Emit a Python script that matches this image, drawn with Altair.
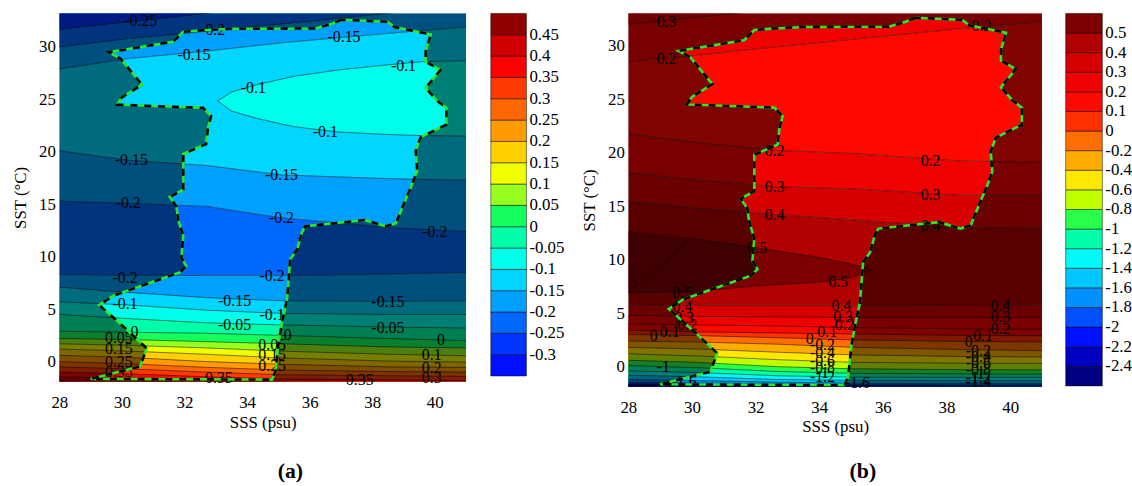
import altair as alt
import pandas as pd

FONT = "Liberation Serif, Times New Roman, Times, serif"

SSS_TICKS = [28, 30, 32, 34, 36, 38, 40]
SST_TICKS = [0, 5, 10, 15, 20, 25, 30]
SSS_DOMAIN = [28, 41]
SST_DOMAIN_A = [-1.9, 33.2]
SST_DOMAIN_B = [-1.85, 33.0]
TOP, BOTTOM = 36.0, -3.0

# ---------------- data-coverage polygon (same in both panels) ----------------
POLY_SSS = [37.02, 36.70, 36.18, 33.54, 32.59, 31.96, 31.64, 29.58, 29.95, 30.64, 30.0, 29.84,
            32.59, 32.85, 32.75, 32.69, 31.96, 31.96, 31.53, 31.74, 31.8, 31.96, 31.9, 32.06,
            31.85, 30.79, 29.74, 29.27, 30.1, 30.79, 30.58, 29.0,
            34.8, 34.91, 35.01, 35.12, 35.28, 35.38, 35.6, 35.75, 35.86, 37.76, 38.44, 38.76, 38.80,
            39.02, 39.29, 39.44, 39.39, 39.55, 40.37, 40.37, 40.08, 39.71, 40.18, 39.71, 39.71,
            39.87, 38.71, 38.49]
POLY_SST = [32.6, 32.2, 31.76, 31.74, 31.6, 31.45, 30.5, 29.5, 28.9, 26.4, 25.2, 24.5,
            24.2, 23.4, 22.3, 20.75, 19.8, 16.4, 15.7, 14.8, 13.5, 12.0, 9.9, 9.1,
            8.5, 7.4, 6.3, 5.4, 3.2, 1.26, -0.47, -1.65,
            -1.72, -0.9, 1.9, 3.77, 6.0, 9.75, 10.7, 12.3, 12.9, 13.5, 12.9, 13.2, 13.5,
            15.1, 17.0, 18.2, 20.1, 21.4, 22.6, 24.2, 24.85, 26.1, 27.8, 28.6, 29.6,
            31.2, 31.9, 32.4]
LEFT_END = 32      # polygon points 0..31 : left chain (top -> bottom)
LEDGE_END = 45     # points 32..44 : stem and ledge (x increasing)

# ---------------- panel (a) ----------------
XA = [28, 30.2, 32.7, 35.1, 38.5, 41]
A_LINES = {
    "m025u": [31.7, 32.4, 33.2, 33.9, 34.9, 35.6],
    "m020u": [30.0, 30.8, 31.5, 32.2, 33.2, 33.9],
    "m015u": [27.9, 28.9, 29.6, 30.4, 31.3, 31.9],
    "m015l": [20.1, 19.2, 18.7, 17.8, 17.45, 17.3],
    "m020m": [15.3, 15.1, 14.8, 13.7, 12.8, 12.4],
    "m020b": [8.3, 8.25, 8.2, 8.2, 8.35, 8.5],
    "l-0.15": [7.1, 6.6, 6.1, 5.8, 5.75, 5.8],
    "l-0.10": [5.7, 5.4, 4.9, 4.6, 4.5, 4.5],
    "l-0.05": [4.5, 4.1, 3.7, 3.5, 3.3, 3.2],
    "l0.00": [2.9, 2.8, 2.7, 2.5, 2.2, 2.0],
    "l0.05": [2.2, 2.1, 1.9, 1.7, 1.4, 1.3],
    "l0.10": [1.7, 1.55, 1.3, 1.0, 0.7, 0.55],
    "l0.15": [1.2, 1.0, 0.7, 0.35, 0.05, -0.05],
    "l0.20": [0.6, 0.4, 0.0, -0.25, -0.5, -0.55],
    "l0.25": [0.0, -0.2, -0.55, -0.8, -0.95, -1.0],
    "l0.30": [-0.5, -0.7, -1.0, -1.25, -1.35, -1.4],
    "l0.35": [-1.0, -1.15, -1.45, -1.65, -1.75, -1.8],
    "l0.40": [-1.45, -1.55, -1.75, -1.95, -2.05, -2.1],
    "l0.45": [-1.75, -1.8, -2.0, -2.15, -2.25, -2.3],
}
EA_SSS = [33.06, 33.5, 34.3, 35.5, 36.9, 38.5, 39.6, 41]
EA_UPPER = [24.85, 25.7, 26.4, 27.2, 27.8, 28.3, 28.6, 28.7]
EA_LOWER = [24.85, 23.9, 23.2, 22.4, 21.9, 21.65, 21.55, 21.5]
EA_BAND = 5
# (lower line, upper line, band index) painted in order
A_REGIONS = [
    ("m015u", "TOP", 3), ("m020u", "TOP", 2), ("m025u", "TOP", 1),
    ("m015l", "m015u", 4), ("m020m", "m015l", 3), ("m020b", "m020m", 2),
    ("BOTTOM", "m020b", 3), ("BOTTOM", "l-0.15", 4), ("BOTTOM", "l-0.10", 5),
    ("BOTTOM", "l-0.05", 6), ("BOTTOM", "l0.00", 7), ("BOTTOM", "l0.05", 8),
    ("BOTTOM", "l0.10", 9), ("BOTTOM", "l0.15", 10), ("BOTTOM", "l0.20", 11),
    ("BOTTOM", "l0.25", 12), ("BOTTOM", "l0.30", 13), ("BOTTOM", "l0.35", 14),
    ("BOTTOM", "l0.40", 15), ("BOTTOM", "l0.45", 16),
]
A_COLORS = ["#0010FF", "#0034FF", "#0068FF", "#00A0FF", "#00D6FF", "#00FFEA", "#00FFA8",
            "#14FF5E", "#98FF1E", "#F0FF00", "#FFD000", "#FF9A00", "#FF6800", "#FF3A00",
            "#FF0000", "#D00000", "#900000"]
A_CB_LABELS = ["-0.3", "-0.25", "-0.2", "-0.15", "-0.1", "-0.05", "0", "0.05", "0.1",
               "0.15", "0.2", "0.25", "0.3", "0.35", "0.4", "0.45"]
A_LABEL_SSS = [30.6, 32.9, 32.3, 37.1, 34.2, 39.0, 36.5, 30.3, 35.1, 30.2, 35.1, 40.0, 30.1,
               34.8, 30.1, 33.6, 33.6, 34.8, 38.5, 38.5, 40.2, 39.9, 39.9, 39.9, 30.4, 29.9,
               29.9, 29.9, 29.9, 35.3, 34.8, 34.8, 34.8, 33.1, 37.6]
A_LABEL_SST = [32.45, 31.6, 29.2, 30.9, 26.1, 28.15, 21.9, 19.2, 17.8, 15.1, 13.7, 12.4, 8.0,
               8.2, 5.5, 5.8, 3.5, 4.4, 5.7, 3.2, 2.05, 0.65, -0.6, -1.55, 2.8, 2.2,
               1.2, 0.0, -1.0, 2.5, 1.6, 0.6, -0.4, -1.6, -1.8]
A_LABEL_TEXT = ["-0.25", "-0.2", "-0.15", "-0.15", "-0.1", "-0.1", "-0.1", "-0.15", "-0.15",
                "-0.2", "-0.2", "-0.2", "-0.2", "-0.2", "-0.1", "-0.15", "-0.05", "-0.1",
                "-0.15", "-0.05", "0", "0.1", "0.2", "0.3", "0", "0.05", "0.15", "0.25",
                "0.35", "0", "0.05", "0.15", "0.25", "0.35", "0.35"]

# ---------------- panel (b) ----------------
XB = [28, 30.2, 32.7, 35.1, 38.5, 41]
B_LINES = {
    "p03t": [32.0, 32.65, 33.4, 34.1, 35.1, 35.8],
    "p02t": [28.5, 29.1, 29.9, 30.6, 31.6, 32.25],
    "p02m": [21.76, 20.9, 20.2, 19.9, 19.2, 19.1],
    "p03m": [18.1, 17.4, 16.8, 16.6, 16.0, 16.0],
    "p04m": [15.45, 14.8, 14.2, 13.7, 13.0, 12.9],
    "p04b": [5.8, 5.7, 5.7, 5.7, 5.75, 5.8],
    "l0.3": [4.8, 4.7, 4.65, 4.6, 4.6, 4.6],
    "l0.2": [4.0, 3.9, 3.8, 3.65, 3.52, 3.5],
    "l0.1": [3.4, 3.25, 3.15, 3.05, 2.92, 2.9],
    "l0.0": [3.0, 2.9, 2.7, 2.5, 2.35, 2.3],
    "l-0.2": [2.4, 2.3, 2.1, 1.8, 1.6, 1.5],
    "l-0.4": [1.8, 1.65, 1.35, 1.1, 0.95, 0.9],
    "l-0.6": [1.2, 1.0, 0.65, 0.4, 0.32, 0.3],
    "l-0.8": [0.6, 0.4, 0.0, -0.2, -0.28, -0.3],
    "l-1.0": [0.1, -0.1, -0.45, -0.62, -0.68, -0.7],
    "l-1.2": [-0.4, -0.55, -0.85, -0.98, -1.0, -1.0],
    "l-1.4": [-0.8, -0.95, -1.2, -1.28, -1.3, -1.3],
    "l-1.6": [-1.2, -1.3, -1.45, -1.52, -1.55, -1.55],
    "l-1.8": [-1.45, -1.52, -1.62, -1.68, -1.7, -1.7],
    "l-2.0": [-1.6, -1.65, -1.72, -1.77, -1.8, -1.8],
    "l-2.2": [-1.7, -1.74, -1.8, -1.84, -1.86, -1.87],
    "l-2.4": [-1.78, -1.8, -1.85, -1.9, -1.92, -1.93],
}
EB_SSS = [28, 30, 32.05, 34, 35, 35.7]
EB_UPPER = [12.7, 12.0, 11.1, 10.2, 9.6, 9.08]
EB_LOWER = [6.93, 7.0, 7.55, 7.9, 8.3, 9.08]
EB_BAND = 18
B_REGIONS = [
    ("p02t", "TOP", 15), ("p03t", "TOP", 16),
    ("p02m", "p02t", 14), ("p03m", "p02m", 15), ("p04m", "p03m", 16), ("p04b", "p04m", 17),
    ("BOTTOM", "p04b", 16), ("BOTTOM", "l0.3", 15), ("BOTTOM", "l0.2", 14),
    ("BOTTOM", "l0.1", 13), ("BOTTOM", "l0.0", 12), ("BOTTOM", "l-0.2", 11),
    ("BOTTOM", "l-0.4", 10), ("BOTTOM", "l-0.6", 9), ("BOTTOM", "l-0.8", 8),
    ("BOTTOM", "l-1.0", 7), ("BOTTOM", "l-1.2", 6), ("BOTTOM", "l-1.4", 5),
    ("BOTTOM", "l-1.6", 4), ("BOTTOM", "l-1.8", 3), ("BOTTOM", "l-2.0", 2),
    ("BOTTOM", "l-2.2", 1), ("BOTTOM", "l-2.4", 0),
]
B_COLORS = ["#000080", "#0000C0", "#0010FF", "#0050FF", "#0090FF", "#00C8FF", "#00FAFA",
            "#00FFA8", "#28FF48", "#C0FF00", "#FFE800", "#FFAC00", "#FF6E00", "#FF3000",
            "#FF0800", "#F00000", "#D60000", "#B00000", "#7C0000"]
B_CB_LABELS = ["-2.4", "-2.2", "-2", "-1.8", "-1.6", "-1.4", "-1.2", "-1", "-0.8", "-0.6",
               "-0.4", "-0.2", "0", "0.1", "0.2", "0.3", "0.4", "0.5"]
B_LABEL_SSS = [29.2, 29.2, 39.1, 32.6, 37.5, 32.6, 37.5, 32.6, 37.5, 32.05, 34.6, 29.7,
               29.7, 29.75, 29.85, 29.3, 28.8, 29.1, 29.75,
               34.7, 34.75, 34.8, 34.25, 33.7, 34.1, 34.1, 34.1, 34.1, 34.1, 34.1, 35.2,
               39.7, 39.7, 39.7, 39.15, 38.7, 39.0, 39.0, 39.0, 39.0, 39.0, 39.0, 39.0]
B_LABEL_SST = [32.2, 28.7, 31.8, 20.1, 19.2, 16.8, 16.0, 14.2, 13.1, 11.1, 7.9, 6.9,
               5.55, 4.5, 3.85, 3.2, 2.9, 0.0, -1.4,
               5.7, 4.6, 3.85, 3.25, 2.6, 2.0, 1.25, 0.5, -0.15, -0.6, -1.0, -1.55,
               5.7, 4.6, 3.5, 2.9, 2.3, 1.5, 0.9, 0.3, -0.3, -0.7, -1.05, -1.4]
B_LABEL_TEXT = ["0.3", "0.2", "0.2", "0.2", "0.2", "0.3", "0.3", "0.4", "0.4", "0.5", "0.5", "0.5",
                "0.4", "0.3", "0.2", "0.1", "0", "-1", "-1.6",
                "0.4", "0.3", "0.2", "0.1", "0", "-0.2", "-0.4", "-0.6", "-0.8", "-1", "-1.2", "-1.6",
                "0.4", "0.3", "0.2", "0.1", "0", "-0.2", "-0.4", "-0.6", "-0.8", "-1", "-1.2", "-1.4"]


def xenc(field):
    return alt.X(f"{field}:Q", stack=None,
                 scale=alt.Scale(domain=SSS_DOMAIN, nice=False, zero=False),
                 axis=alt.Axis(values=SSS_TICKS, title="SSS (psu)", format="d", labelFlush=False))


def yenc(field, dom):
    return alt.Y(f"{field}:Q", stack=None,
                 scale=alt.Scale(domain=dom, nice=False, zero=False),
                 axis=alt.Axis(values=SST_TICKS, title="SST (°C)", format="d", labelFlush=False))


def build_panel(tag, xs, lines, regions, e_sss, e_up, e_lo, e_band, colors,
                cb_labels, lab_sss, lab_sst, lab_txt, dom, width, height,
                cb_x, cb_w, cb_domain_lo, letter):
    keys = [f"{tag}{i:02d}" for i in range(len(colors))]
    cscale = alt.Scale(domain=keys, range=colors)
    allv = dict(lines)
    allv["TOP"] = [TOP] * len(xs)
    allv["BOTTOM"] = [BOTTOM] * len(xs)

    layers = []
    for lo, hi, band in regions:
        df = pd.DataFrame({"sss": xs, "lo": allv[lo], "hi": allv[hi], "band": keys[band]})
        layers.append(alt.Chart(df).mark_area(clip=True).encode(
            x=xenc("sss"), y=yenc("lo", dom), y2="hi:Q",
            color=alt.Color("band:N", scale=cscale, legend=None)))
    edf = pd.DataFrame({"sss": e_sss, "lo": e_lo, "hi": e_up, "band": keys[e_band]})
    ell = alt.Chart(edf).mark_area(clip=True).encode(
        x=xenc("sss"), y=yenc("lo", dom), y2="hi:Q",
        color=alt.Color("band:N", scale=cscale, legend=None))
    insert_at = 4 if tag == "A" else 7
    layers.insert(insert_at, ell)

    # darkening of the region outside the data polygon
    mask = dict(color="black", opacity=0.5, clip=True)
    left_df = pd.DataFrame({"sst": POLY_SST[:LEFT_END], "xa": 27.0, "xb": POLY_SSS[:LEFT_END]})
    right_sss = POLY_SSS[LEDGE_END - 1:] + [POLY_SSS[0]]
    right_sst = POLY_SST[LEDGE_END - 1:] + [POLY_SST[0]]
    right_df = pd.DataFrame({"sst": right_sst, "xa": right_sss, "xb": 42.0})
    br_df = pd.DataFrame({"sss": POLY_SSS[LEFT_END:LEDGE_END] + [42.0], "lo": BOTTOM,
                          "hi": POLY_SST[LEFT_END:LEDGE_END] + [POLY_SST[LEDGE_END - 1]]})
    bot_df = pd.DataFrame({"sss": [27.0, POLY_SSS[LEFT_END - 1], POLY_SSS[LEFT_END]], "lo": BOTTOM,
                           "hi": [POLY_SST[LEFT_END - 1], POLY_SST[LEFT_END - 1], POLY_SST[LEFT_END]]})
    top_df = pd.DataFrame({"sss": [27.0, 42.0], "lo": POLY_SST[0], "hi": TOP})
    layers.append(alt.Chart(left_df).mark_area(orient="horizontal", **mask).encode(
        y=yenc("sst", dom), x=xenc("xa"), x2="xb:Q"))
    layers.append(alt.Chart(right_df).mark_area(orient="horizontal", **mask).encode(
        y=yenc("sst", dom), x=xenc("xa"), x2="xb:Q"))
    for d in (br_df, bot_df, top_df):
        layers.append(alt.Chart(d).mark_area(**mask).encode(
            x=xenc("sss"), y=yenc("lo", dom), y2="hi:Q"))

    # contour lines
    rows = []
    for name, ys in lines.items():
        for k, (x, y) in enumerate(zip(xs, ys)):
            rows.append({"name": name, "k": k, "sss": x, "sst": y})
    loop_sss = list(reversed(e_sss)) + e_sss[1:]
    loop_sst = list(reversed(e_lo)) + e_up[1:]
    for k, (x, y) in enumerate(zip(loop_sss, loop_sst)):
        rows.append({"name": "ellipse", "k": k, "sss": x, "sst": y})
    layers.append(alt.Chart(pd.DataFrame(rows)).mark_line(
        color="black", strokeWidth=0.6, opacity=0.85, clip=True).encode(
        x=xenc("sss"), y=yenc("sst", dom), detail="name:N", order="k:Q"))

    # contour labels
    ldf = pd.DataFrame({"sss": lab_sss, "sst": lab_sst, "t": lab_txt})
    layers.append(alt.Chart(ldf).mark_text(font=FONT, fontSize=16, color="black").encode(
        x=xenc("sss"), y=yenc("sst", dom), text="t:N"))

    # polygon outline: green with black dashes
    pdf = pd.DataFrame({"sss": POLY_SSS + [POLY_SSS[0]], "sst": POLY_SST + [POLY_SST[0]],
                        "i": list(range(len(POLY_SSS) + 1))})
    layers.append(alt.Chart(pdf).mark_line(color="#2BE62B", strokeWidth=2.6).encode(
        x=xenc("sss"), y=yenc("sst", dom), order="i:Q"))
    layers.append(alt.Chart(pdf).mark_line(color="black", strokeWidth=2.6,
                                           strokeDash=[7, 7]).encode(
        x=xenc("sss"), y=yenc("sst", dom), order="i:Q"))

    # panel letter
    layers.append(alt.Chart(pd.DataFrame({"t": [letter]})).mark_text(
        font=FONT, fontSize=22, fontWeight="bold", color="black", baseline="middle").encode(
        x=alt.value(width / 2 + 28), y=alt.value(463), text="t:N"))

    main = alt.layer(*layers)

    # colorbar
    n = len(colors)
    cbdf = pd.DataFrame({"band": keys, "lo": list(range(n)), "hi": list(range(1, n + 1))})
    cbscale = alt.Scale(domain=[cb_domain_lo, n], nice=False, zero=False)
    cb_rect = alt.Chart(cbdf).mark_rect(stroke="black", strokeWidth=0.5).encode(
        x=alt.value(cb_x), x2=alt.value(cb_x + cb_w),
        y=alt.Y("lo:Q", scale=cbscale, axis=None), y2="hi:Q",
        color=alt.Color("band:N", scale=cscale, legend=None))
    cbl = pd.DataFrame({"pos": list(range(1, n)), "t": cb_labels})
    cb_txt = alt.Chart(cbl).mark_text(font=FONT, fontSize=17, align="left",
                                      baseline="middle", color="black").encode(
        x=alt.value(cb_x + cb_w + 3), y=alt.Y("pos:Q", scale=cbscale, axis=None), text="t:N")
    cb = alt.layer(cb_rect, cb_txt)

    return alt.layer(main, cb).resolve_scale(x="independent", y="independent").properties(
        width=width, height=height)


panel_a = build_panel("A", XA, A_LINES, A_REGIONS, EA_SSS, EA_UPPER, EA_LOWER, EA_BAND,
                      A_COLORS, A_CB_LABELS, A_LABEL_SSS, A_LABEL_SST, A_LABEL_TEXT,
                      SST_DOMAIN_A, 411, 372, 436, 36, -0.26, "(a)")
panel_b = build_panel("B", XB, B_LINES, B_REGIONS, EB_SSS, EB_UPPER, EB_LOWER, EB_BAND,
                      B_COLORS, B_CB_LABELS, B_LABEL_SSS, B_LABEL_SST, B_LABEL_TEXT,
                      SST_DOMAIN_B, 418, 377, 442, 37, -0.03, "(b)")

chart = alt.hconcat(panel_a, panel_b, spacing=164, bounds="flush").resolve_scale(
    color="independent").properties(
    padding={"left": 12, "top": 10, "right": 0, "bottom": 0}
).configure_axis(
    labelFont=FONT, titleFont=FONT, labelFontSize=17, titleFontSize=17,
    titleFontWeight="normal", labelColor="black", titleColor="black",
    domain=False, ticks=False, grid=False
).configure_axisX(labelPadding=13, titlePadding=4).configure_axisY(
    labelPadding=4, titlePadding=9
).configure_view(stroke=None)

chart.save("out.html", embed_options={"renderer": "svg", "actions": False})
